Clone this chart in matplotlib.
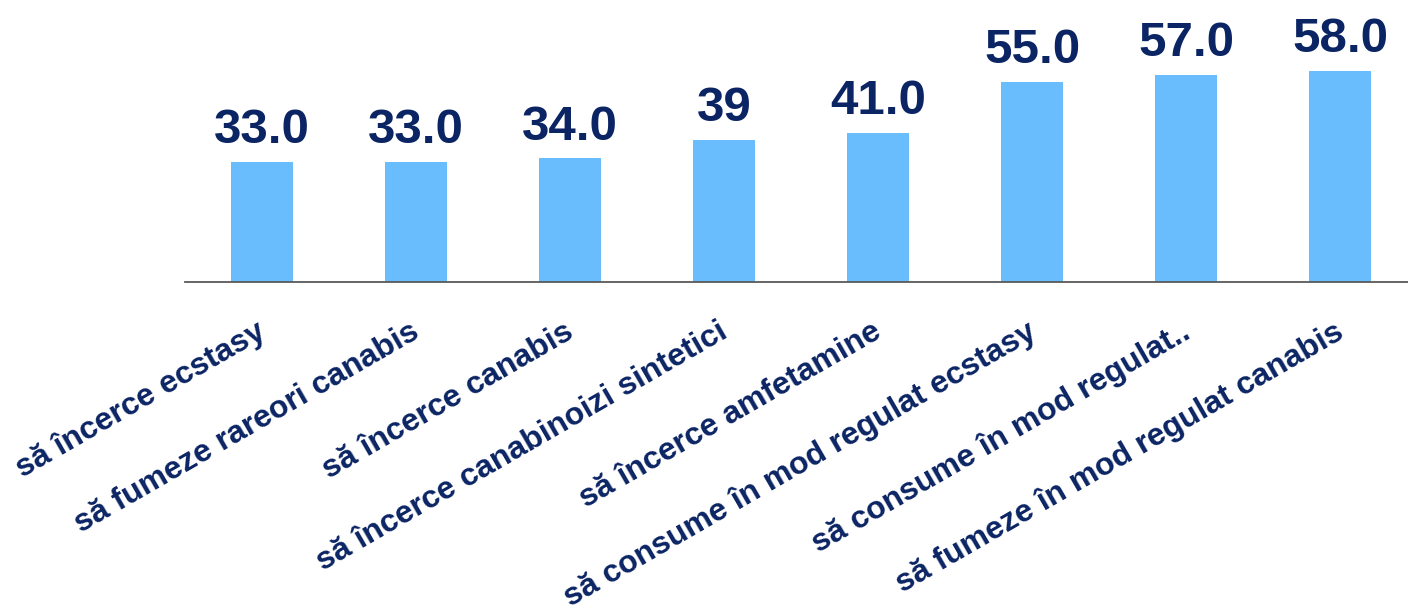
import matplotlib
matplotlib.use("Agg")
import matplotlib.pyplot as plt
import matplotlib.transforms as mtransforms

categories = [
    "să încerce ecstasy",
    "să fumeze rareori canabis",
    "să încerce canabis",
    "să încerce canabinoizi sintetici",
    "să încerce amfetamine",
    "să consume în mod regulat ecstasy",
    "să consume în mod regulat..",
    "să fumeze în mod regulat canabis",
]
values = [33.0, 33.0, 34.0, 39, 41.0, 55.0, 57.0, 58.0]
value_labels = ["33.0", "33.0", "34.0", "39", "41.0", "55.0", "57.0", "58.0"]

BAR_COLOR = "#69BDFD"
TEXT_COLOR = "#0B2463"

plt.rcParams["font.family"] = ["Liberation Sans", "DejaVu Sans"]
plt.rcParams["font.weight"] = "bold"

fig = plt.figure(figsize=(14.08, 6.10), dpi=100)
# axes spans from x=185px, baseline at y=282px from top
ax = fig.add_axes([185 / 1408, (610 - 282) / 610, 1232 / 1408, 282 / 610])

x = list(range(len(categories)))
ax.bar(x, values, width=0.4, color=BAR_COLOR)

for xi, v, lab in zip(x, values, value_labels):
    ax.annotate(
        lab,
        (xi, v),
        xytext=(0, 13.5),
        textcoords="offset points",
        ha="center",
        va="baseline",
        fontsize=35.5,
        fontweight="bold",
        color=TEXT_COLOR,
    )

ax.set_xlim(-0.5, 7.5)
ax.set_ylim(0, 77.5)

ax.set_xticks(x)
ax.set_xticklabels(
    categories,
    rotation=30,
    ha="right",
    rotation_mode="anchor",
    fontsize=23,
    fontweight="bold",
    color=TEXT_COLOR,
)
ax.tick_params(axis="x", length=0, pad=25)
shift = mtransforms.ScaledTranslation(-6 / 100, 0, fig.dpi_scale_trans)
for lbl in ax.get_xticklabels():
    lbl.set_transform(lbl.get_transform() + shift)

ax.set_yticks([])
for side in ["top", "right", "left"]:
    ax.spines[side].set_visible(False)
ax.spines["bottom"].set_color("#595959")
ax.spines["bottom"].set_linewidth(1.3)

fig.savefig("out.png", dpi=100)
